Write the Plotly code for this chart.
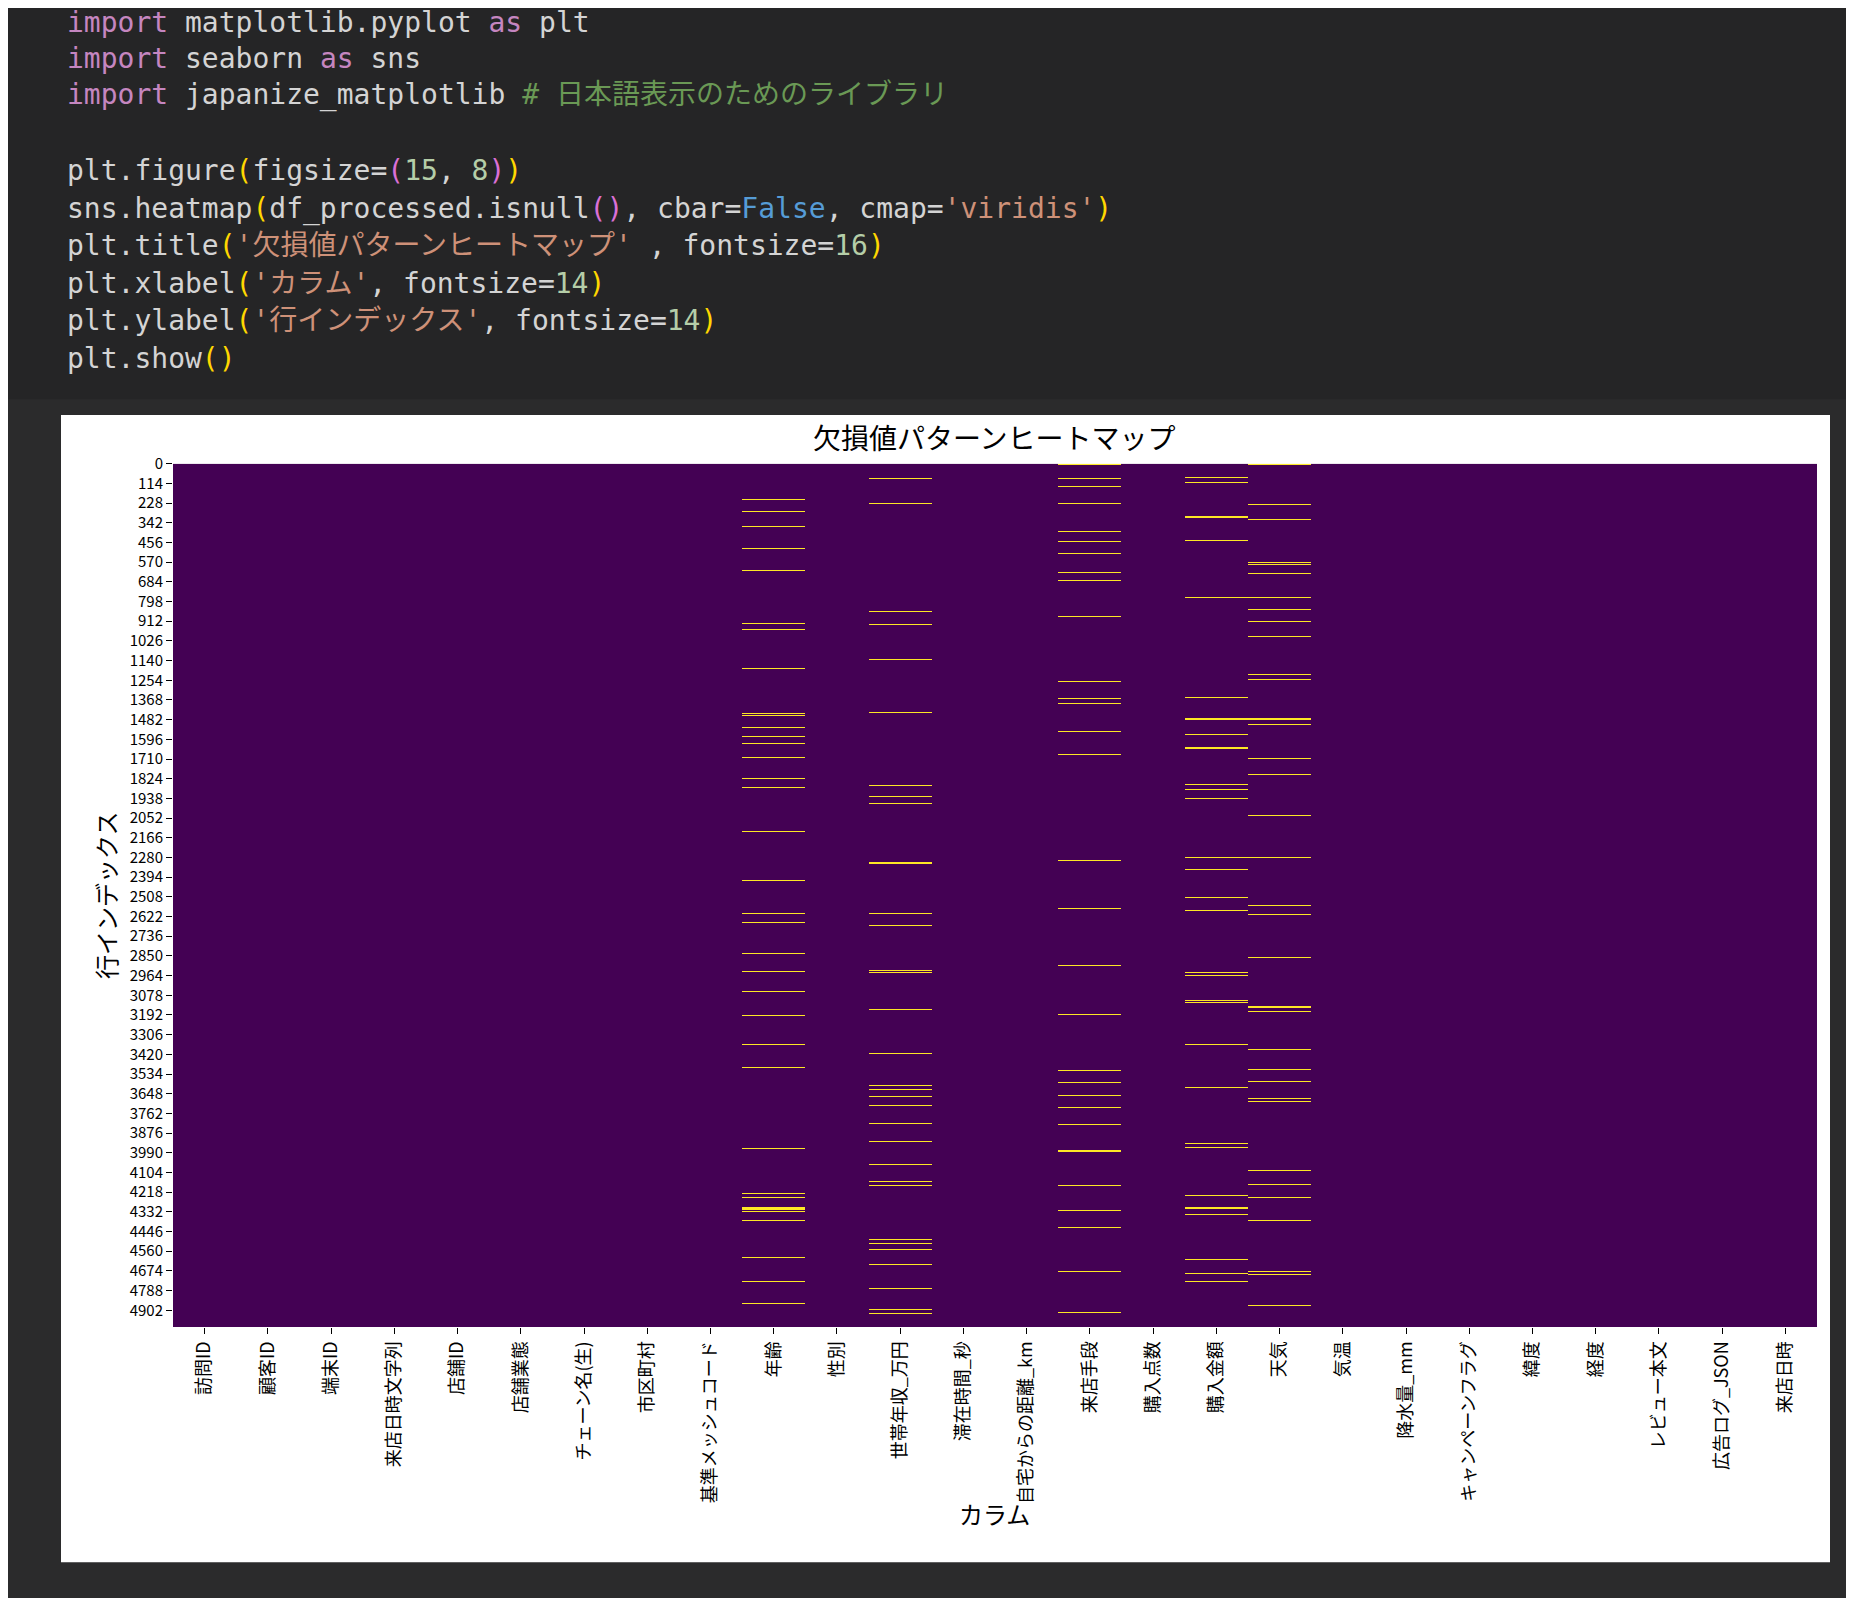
import numpy as np
import plotly.graph_objects as go

n_rows = 5000
columns = ["訪問ID", "顧客ID", "端末ID", "来店日時文字列", "店舗ID", "店舗業態", "チェーン名(生)",
           "市区町村", "基準メッシュコード", "年齢", "性別", "世帯年収_万円", "滞在時間_秒",
           "自宅からの距離_km", "来店手段", "購入点数", "購入金額", "天気", "気温", "降水量_mm",
           "キャンペーンフラグ", "緯度", "経度", "レビュー本文", "広告ログ_JSON", "来店日時"]

# row indices with missing values
missing_age = [204, 279, 360, 489, 618, 924, 965, 1182, 1447, 1448, 1460, 1528, 1583, 1624, 1698,
               1821, 1875, 2133, 2412, 2609, 2656, 2833, 2942, 3057, 3193, 3363, 3492, 3967, 4225,
               4252, 4313, 4314, 4327, 4381, 4599, 4735, 4864]
missing_income = [88, 231, 856, 931, 1134, 1440, 1861, 1929, 1970, 2310, 2609, 2670, 2935, 2948,
                  3159, 3417, 3600, 3628, 3662, 3716, 3818, 3927, 4056, 4157, 4178, 4490, 4517,
                  4551, 4640, 4776, 4898, 4925]
missing_means = [0, 1, 88, 89, 136, 231, 394, 455, 516, 632, 673, 883, 1264, 1265, 1359, 1386, 1549,
                 1685, 2303, 2575, 2908, 3186, 3512, 3587, 3655, 3729, 3824, 3981, 4178, 4320,
                 4422, 4674, 4918]
missing_amount = [82, 109, 306, 448, 774, 1352, 1481, 1569, 1644, 1854, 1888, 1943, 2282, 2350,
                  2513, 2588, 2948, 2969, 3111, 3125, 3363, 3364, 3614, 3940, 3960, 4239, 4313,
                  4347, 4612, 4687, 4735]
missing_weather = [0, 1, 238, 319, 571, 584, 639, 774, 842, 917, 999, 1223, 1250, 1481, 1508, 1705,
                   1800, 2038, 2282, 2561, 2615, 2860, 3145, 3172, 3390, 3505, 3506, 3580, 3675,
                   3695, 4096, 4171, 4252, 4253, 4381, 4674, 4694, 4877]

missing = {"年齢": missing_age, "世帯年収_万円": missing_income, "来店手段": missing_means,
           "購入金額": missing_amount, "天気": missing_weather}

z = np.zeros((n_rows, len(columns)))
for col, rows in missing.items():
    z[rows, columns.index(col)] = 1

# 5000 rows are thinner than a screen pixel, so show each block of rows as one cell
# (a cell is lit if any row in it is missing)
block = 6
n_blocks = int(np.ceil(n_rows / block))
zb = np.zeros((n_blocks, len(columns)))
for b in range(n_blocks):
    zb[b] = z[b * block:(b + 1) * block].max(axis=0)

ytick_vals = list(range(0, n_rows, 114))

W, H = 1854, 1598
fig = go.Figure(go.Heatmap(
    z=zb, x=columns, y0=-0.5 + block / 2, dy=block,
    colorscale=[[0, "#440154"], [1, "#fde725"]], showscale=False, zmin=0, zmax=1,
))

def px(x):
    return (x - 8) / W

def py(y):
    return 1 - (y - 16) / H

shapes = [
    dict(type="rect", xref="paper", yref="paper", x0=0, x1=1, y0=0, y1=py(398),
         fillcolor="#2b2b2c", line_width=0, layer="below"),
    dict(type="rect", xref="paper", yref="paper", x0=px(61), x1=px(1830), y0=py(1570), y1=py(414),
         fillcolor="white", line_width=0, layer="below"),
]

P, T, G, O, N, B, Y, M = "#c586c0", "#d4d4d4", "#6a9955", "#ce9178", "#b5cea8", "#569cd6", "#ffd700", "#da70d6"
def s(t, c):
    return f'<span style="color:{c}">{t}</span>'

code = [
    (19, s("import", P) + s(" matplotlib.pyplot ", T) + s("as", P) + s(" plt", T)),
    (55, s("import", P) + s(" seaborn ", T) + s("as", P) + s(" sns", T)),
    (92, s("import", P) + s(" japanize_matplotlib ", T) + s("# 日本語表示のためのライブラリ", G)),
    (168, s("plt.figure", T) + s("(", Y) + s("figsize=", T) + s("(", M) + s("15", N) + s(", ", T) + s("8", N) + s(")", M) + s(")", Y)),
    (206, s("sns.heatmap", T) + s("(", Y) + s("df_processed.isnull", T) + s("()", M) + s(", cbar=", T) + s("False", B) + s(", cmap=", T) + s("'viridis'", O) + s(")", Y)),
    (243, s("plt.title", T) + s("(", Y) + s("'欠損値パターンヒートマップ'", O) + s(" , fontsize=", T) + s("16", N) + s(")", Y)),
    (281, s("plt.xlabel", T) + s("(", Y) + s("'カラム'", O) + s(", fontsize=", T) + s("14", N) + s(")", Y)),
    (319, s("plt.ylabel", T) + s("(", Y) + s("'行インデックス'", O) + s(", fontsize=", T) + s("14", N) + s(")", Y)),
    (357, s("plt.show", T) + s("()", Y)),
]
annotations = [dict(x=px(65), y=py(yy), xref="paper", yref="paper", text=t, showarrow=False,
                    xanchor="left", yanchor="middle",
                    font=dict(family="DejaVu Sans Mono, Noto Sans CJK JP", size=28, color=T))
               for yy, t in code]
cjk = "Noto Sans CJK JP"
annotations += [
    dict(x=px(995), y=py(414), xref="paper", yref="paper", text="欠損値パターンヒートマップ",
         showarrow=False, font=dict(family=cjk, size=28, color="black")),
    dict(x=px(995), y=py(1540), xref="paper", yref="paper", text="カラム",
         showarrow=False, font=dict(family=cjk, size=24, color="black")),
    dict(x=px(86), y=py(898), xref="paper", yref="paper", text="行インデックス", textangle=-90,
         showarrow=False, font=dict(family=cjk, size=24, color="black")),
]

fig.update_layout(
    width=W, height=H, margin=dict(l=0, r=0, t=0, b=0),
    paper_bgcolor="#252526", plot_bgcolor="white",
    shapes=shapes, annotations=annotations, showlegend=False,
    xaxis=dict(domain=[px(173), px(1817)], tickangle=-90, ticks="outside", ticklen=6,
               tickcolor="black", tickfont=dict(family=cjk, size=18, color="black"),
               showgrid=False, zeroline=False, anchor="y"),
    yaxis=dict(domain=[py(1333), py(463)], range=[n_rows - 0.5, -0.5], tickvals=ytick_vals,
               ticks="outside", ticklen=6, tickcolor="black",
               tickfont=dict(family=cjk, size=15, color="black"),
               showgrid=False, zeroline=False),
)

fig.write_html("out.html")
